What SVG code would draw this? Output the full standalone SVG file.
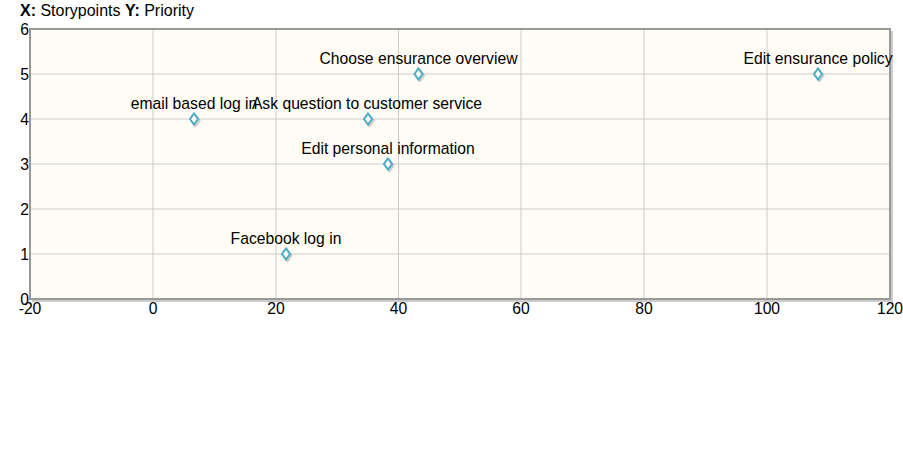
<svg xmlns="http://www.w3.org/2000/svg" width="903" height="450" viewBox="0 0 903 450">
<style>
text{font-family:"Liberation Sans",Arial,sans-serif;fill:#000}
.title{font-size:16px}
.tick{font-size:15.7px}
.ylab{text-anchor:end}
.xlab{text-anchor:middle}
.lbl{font-size:15.7px;text-anchor:middle}
.grid{stroke:#cccccc;stroke-width:1;fill:none}
.mk{fill:#ffffff;stroke:#4bacc6;stroke-width:2}
.sh{fill:none;stroke:#999;stroke-width:2;opacity:0.5}
</style>
<defs>
<g id="dm"><path class="sh" d="M1.5 -4 L5.5 1.5 L1.5 7 L-2.5 1.5 Z"/><path class="mk" d="M0 -5.5 L4 0 L0 5.5 L-4 0 Z"/></g>
</defs>
<rect width="903" height="450" fill="#ffffff"/>
<text class="title" x="20" y="16"><tspan font-weight="bold">X:</tspan> Storypoints <tspan font-weight="bold">Y:</tspan> Priority</text>
<g id="plot">
<rect x="30" y="29" width="860" height="270" fill="#fffcf5"/>
<g class="grid">
<line x1="153" y1="29" x2="153" y2="299"/>
<line x1="276" y1="29" x2="276" y2="299"/>
<line x1="398.5" y1="29" x2="398.5" y2="299"/>
<line x1="521" y1="29" x2="521" y2="299"/>
<line x1="644" y1="29" x2="644" y2="299"/>
<line x1="767" y1="29" x2="767" y2="299"/>
<line x1="30" y1="74" x2="890" y2="74"/>
<line x1="30" y1="119" x2="890" y2="119"/>
<line x1="30" y1="164" x2="890" y2="164"/>
<line x1="30" y1="209" x2="890" y2="209"/>
<line x1="30" y1="254" x2="890" y2="254"/>
</g>
<path d="M892 31 L892 301 L32 301" fill="none" stroke="#cccccc" stroke-width="2"/>
<rect x="30" y="29" width="860" height="270" fill="none" stroke="#999999" stroke-width="2"/>
</g>
<g id="axes">
<text class="tick ylab" x="29" y="35">6</text>
<text class="tick ylab" x="29" y="80">5</text>
<text class="tick ylab" x="29" y="125">4</text>
<text class="tick ylab" x="29" y="170">3</text>
<text class="tick ylab" x="29" y="215">2</text>
<text class="tick ylab" x="29" y="260">1</text>
<text class="tick ylab" x="29" y="305">0</text>
<text class="tick xlab" x="30" y="314">-20</text>
<text class="tick xlab" x="153" y="314">0</text>
<text class="tick xlab" x="276" y="314">20</text>
<text class="tick xlab" x="398.5" y="314">40</text>
<text class="tick xlab" x="521" y="314">60</text>
<text class="tick xlab" x="644" y="314">80</text>
<text class="tick xlab" x="767" y="314">100</text>
<text class="tick xlab" x="890" y="314">120</text>
</g>
<g id="connectors"></g>
<g id="n-email"><use href="#dm" x="194" y="119"/><text class="lbl" x="194" y="109">email based log in</text></g>
<g id="n-ask"><use href="#dm" x="368" y="119"/><text class="lbl" x="367" y="109">Ask question to customer service</text></g>
<g id="n-choose"><use href="#dm" x="418.5" y="74"/><text class="lbl" x="418.5" y="64">Choose ensurance overview</text></g>
<g id="n-editpers"><use href="#dm" x="388" y="164"/><text class="lbl" x="388" y="154">Edit personal information</text></g>
<g id="n-facebook"><use href="#dm" x="286" y="254"/><text class="lbl" x="286" y="244">Facebook log in</text></g>
<g id="n-editpol"><use href="#dm" x="818" y="74"/><text class="lbl" x="818" y="64">Edit ensurance policy</text></g>
</svg>
